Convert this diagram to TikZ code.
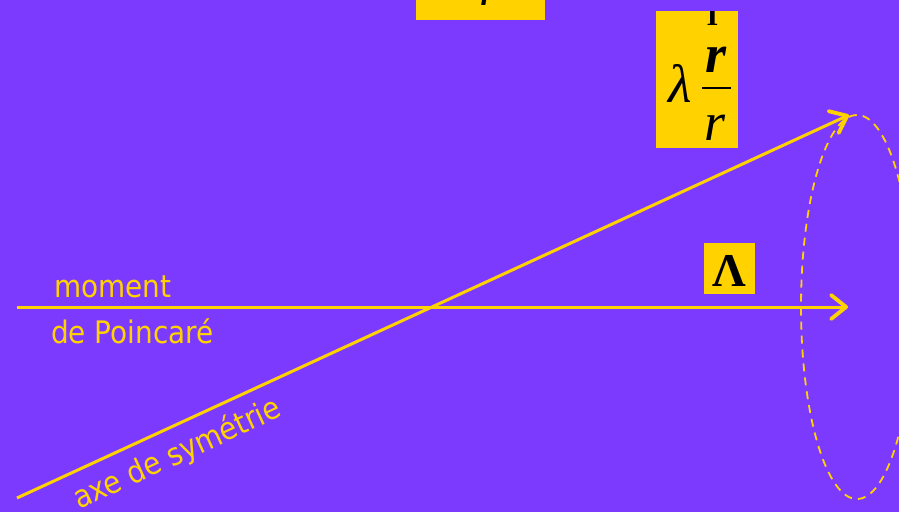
\documentclass[tikz,border=0pt]{standalone}
\usepackage{fontspec}
\setmainfont{Liberation Serif}
\newfontfamily\labelfont{DejaVu Sans Condensed}
\usetikzlibrary{arrows.meta}
\definecolor{bgpurple}{RGB}{125,58,255}
\definecolor{gold}{RGB}{255,210,0}
\begin{document}
\begin{tikzpicture}[x=1pt,y=-1pt,
  lbl/.style={text=gold,font=\labelfont\fontsize{31}{36}\selectfont,inner sep=0pt},
  axisline/.style={draw=gold,line width=3pt,-{Straight Barb[length=15pt,width=24pt,line width=3.8pt,round]}},
  ybox/.style={fill=gold,inner sep=0pt,outer sep=0pt},
  glyph/.style={text=black,inner sep=0pt,anchor=base}
]
\useasboundingbox (0,0) rectangle (899,512);
\fill[bgpurple] (0,0) rectangle (899,512);

% boxes
\node[ybox,minimum width=129pt,minimum height=40pt] (topbox) at (480.5,0) {};
\node[ybox,minimum width=82pt,minimum height=137pt] (lambox) at (697,79.5) {};
\node[ybox,minimum width=51pt,minimum height=51pt] (Lbox) at (729.5,268.5) {};

% partial glyphs clipped at the top
\begin{scope}
  \clip (416,0) rectangle (545,20);
  \node[glyph,font=\fontsize{52}{52}\selectfont\itshape] (topglyph) at (490,5) {r};
\end{scope}
\begin{scope}
  \clip (656,11) rectangle (738,148);
  \node[glyph,font=\fontsize{30}{30}\selectfont\bfseries] (arrowstem) at (712.5,25) {I};
\end{scope}

% lambda r/r
\node[glyph,font=\fontsize{54}{54}\selectfont\itshape] (lam) at (680,102) {λ};
\node[glyph,font=\fontsize{54}{54}\selectfont\bfseries\itshape] (num) at (716,72) {r};
\node[glyph,font=\fontsize{54}{54}\selectfont\itshape] (den) at (715,140) {r};
\coordinate (barL) at (702,88);
\coordinate (barR) at (731,88);
\draw[black,line width=2.4pt] (barL) -- (barR);

% Lambda
\node[glyph,font=\fontsize{47}{47}\selectfont\bfseries] (Lam) at (729,286) {Λ};

% dashed ellipse
\coordinate (ec) at (857,307);
\draw[gold,line width=1.8pt,dash pattern=on 8pt off 6pt] (ec) ellipse [x radius=56pt,y radius=192pt];

% axes
\coordinate (hA) at (17,307);
\coordinate (hB) at (848,307);
\coordinate (dA) at (17,498);
\coordinate (dB) at (849,115);
\draw[axisline] (hA) -- (hB);
\draw[axisline] (dA) -- (dB);

% labels
\node[lbl,anchor=base west] (moment) at (54,297) {moment};
\node[lbl,anchor=base west] (poinc) at (51,343) {de Poincaré};
\node[lbl,anchor=base west,rotate=24.75] (axe) at (79,510) {axe de symétrie};
\end{tikzpicture}
\end{document}
